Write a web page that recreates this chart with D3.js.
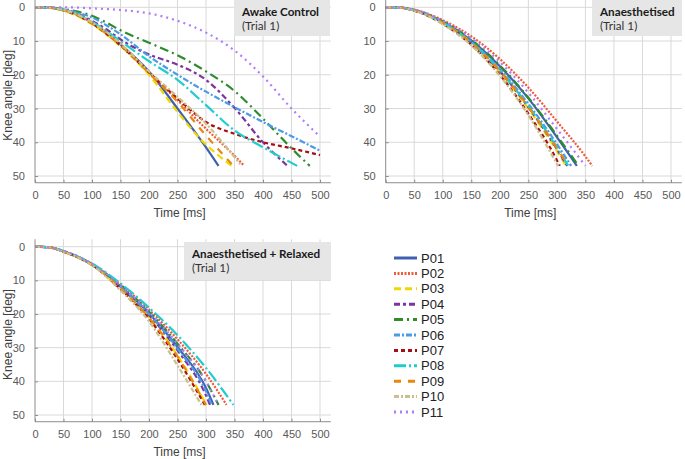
<!DOCTYPE html>
<html>
<head>
<meta charset="utf-8">
<script src="https://cdn.jsdelivr.net/npm/d3@7"></script>
<style>
  html, body { margin: 0; padding: 0; background: #fff; }
  svg { display: block; font-family: "Liberation Sans", Arial, sans-serif; }
</style>
</head>
<body>
<svg id="chart" width="685" height="459"></svg>
<script>
// participants, in legend order
const participants = ['P01', 'P02', 'P03', 'P04', 'P05', 'P06', 'P07', 'P08', 'P09', 'P10', 'P11'];

const xTicks = [0, 50, 100, 150, 200, 250, 300, 350, 400, 450, 500];
const yTicks = [0, 10, 20, 30, 40, 50];

// knee angle [deg] vs time [ms], one list of [t, angle] per participant
const awakeCurves = [
  [[0, 0], [25, 0.1], [50, 0.8], [75, 2.2], [100, 4.5], [125, 7.5], [150, 11], [200, 19], [250, 30], [300, 41.5], [322, 47]],
  [[0, 0], [25, 0.1], [50, 0.8], [75, 2.2], [100, 4.5], [125, 7.3], [150, 10.8], [200, 19.5], [250, 27.5], [300, 36], [350, 44], [367, 47]],
  [[0, 0], [25, 0.2], [50, 1], [75, 2.6], [100, 5], [125, 8], [150, 11.5], [200, 20], [250, 31], [290, 39], [345, 47]],
  [[0, 0], [25, 0.1], [50, 0.8], [75, 2], [100, 4], [125, 6.5], [150, 9.5], [175, 12], [200, 14], [250, 17], [300, 21.5], [350, 29.8], [400, 40], [443, 47]],
  [[0, 0], [25, 0.1], [50, 0.5], [75, 1.3], [100, 2.5], [125, 4.5], [150, 6.8], [200, 10.5], [250, 14.2], [300, 19], [350, 24.8], [400, 33], [450, 41.8], [482, 47]],
  [[0, 0], [25, 0.1], [50, 0.6], [75, 1.6], [100, 3], [125, 5.3], [150, 8], [200, 14.5], [250, 20], [300, 25], [350, 29.6], [400, 34], [450, 38.2], [500, 42.5]],
  [[0, 0], [25, 0.1], [50, 0.9], [75, 2.4], [100, 4.8], [125, 7.8], [150, 11.3], [200, 19.3], [250, 27], [300, 34], [350, 37.5], [400, 40], [450, 41.8], [500, 43.8]],
  [[0, 0], [25, 0.1], [50, 0.8], [75, 2.2], [100, 4.3], [125, 7], [150, 10], [200, 16], [250, 21.5], [300, 29], [350, 36.5], [400, 41.5], [460, 47]],
  [[0, 0], [25, 0.1], [50, 0.9], [75, 2.4], [100, 4.8], [125, 7.8], [150, 11.2], [200, 19.5], [250, 28], [300, 38], [348, 47]],
  [[0, 0], [25, 0.1], [50, 0.8], [75, 2.2], [100, 4.5], [125, 7.3], [150, 10.8], [200, 19], [250, 26.5], [300, 34.5], [360, 46.5]],
  [[0, 0], [50, 0], [100, 0.3], [150, 0.8], [200, 1.8], [250, 4], [300, 7.5], [350, 12.8], [400, 20.5], [450, 30], [500, 38.3]]
];

const anaesthCurves = [
  [[0, 0], [25, 0.1], [50, 0.8], [100, 4.3], [150, 9.8], [200, 17.5], [250, 27], [300, 38.5], [335, 47]],
  [[0, 0], [25, 0.1], [50, 0.7], [100, 3.8], [150, 8.6], [200, 15.3], [250, 23.8], [300, 33.8], [350, 44.2], [362, 47]],
  [[0, 0], [25, 0.1], [50, 0.9], [100, 4.7], [150, 10.7], [200, 19.2], [250, 30], [300, 42.6], [316, 47]],
  [[0, 0], [25, 0.1], [50, 0.9], [100, 4.6], [150, 10.5], [200, 18.9], [250, 29.6], [300, 42], [318, 47]],
  [[0, 0], [25, 0.1], [50, 0.8], [100, 4.2], [150, 9.6], [200, 17.2], [250, 26.8], [300, 38], [338, 47]],
  [[0, 0], [25, 0.1], [50, 0.8], [100, 4.5], [150, 10.2], [200, 18.3], [250, 28.6], [300, 40.5], [325, 47]],
  [[0, 0], [25, 0.1], [50, 1], [100, 4.9], [150, 11.1], [200, 20], [250, 31.5], [300, 45.3], [305, 47]],
  [[0, 0], [25, 0.1], [50, 0.9], [100, 4.6], [150, 10.4], [200, 18.7], [250, 29.3], [300, 41.5], [320, 47]],
  [[0, 0], [25, 0.1], [50, 0.9], [100, 4.6], [150, 10.5], [200, 18.8], [250, 29.5], [300, 41.7], [320, 47]],
  [[0, 0], [25, 0.1], [50, 1], [100, 5], [150, 11.3], [200, 20.3], [250, 32], [302, 47]],
  [[0, 0], [25, 0.1], [50, 0.7], [100, 4], [150, 9.1], [200, 16.2], [250, 25.3], [300, 36], [350, 47]]
];

const relaxedCurves = [
  [[0, 0], [25, 0.2], [50, 1.4], [100, 5.3], [150, 11.8], [200, 19.8], [250, 29.8], [300, 42], [313, 47]],
  [[0, 0], [25, 0.2], [50, 1.3], [100, 5.1], [150, 11.2], [200, 18.7], [250, 27.5], [300, 37.8], [336, 47]],
  [[0, 0], [25, 0.2], [50, 1.5], [100, 5.5], [150, 12.4], [200, 21], [250, 32.3], [301, 47]],
  [[0, 0], [25, 0.2], [50, 1.4], [100, 5.3], [150, 12], [200, 20.3], [250, 30.8], [300, 44.2], [307, 47]],
  [[0, 0], [25, 0.2], [50, 1.4], [100, 5.2], [150, 11.5], [200, 19.3], [250, 28.8], [300, 40], [322, 47]],
  [[0, 0], [25, 0.2], [50, 1.4], [100, 5.3], [150, 11.9], [200, 20], [250, 30.3], [300, 43], [310, 47]],
  [[0, 0], [25, 0.2], [50, 1.5], [100, 5.4], [150, 12.6], [200, 21.4], [250, 33.4], [298, 47]],
  [[0, 0], [25, 0.2], [50, 1.3], [100, 5], [150, 10.9], [200, 18.1], [250, 26.3], [300, 36], [348, 47]],
  [[0, 0], [25, 0.2], [50, 1.5], [100, 5.4], [150, 12.4], [200, 21.1], [250, 32.6], [300, 47]],
  [[0, 0], [25, 0.2], [50, 1.5], [100, 5.5], [150, 13], [200, 22.2], [250, 35.3], [292, 47]],
  [[0, 0], [25, 0.2], [50, 1.2], [100, 5.1], [150, 11.5], [200, 19.3], [250, 28.8], [300, 40], [322, 47]]
];

// line styles per participant
const colors = ['#4060B0', '#EE5A3A', '#EED800', '#7A35A0', '#2E8B2E', '#4D9BE6', '#A50F15', '#22CCCC', '#E8880F', '#CCC08A', '#B07CFF'];
const dashes = ['none', '2,1.5', '7,4', '6,3,3,3', '9,4,2,4', '6,2,2,2', '4,3', '12,3,2,3', '7,7', '5,2,2,2', '2,4'];

const svg = d3.select('#chart');

function drawPanel(opt) {
  const x = d3.scaleLinear().domain([0, 500]).range([opt.x0, opt.x500]);
  const y = d3.scaleLinear().domain([0, 50]).range([opt.y0, opt.y50]);
  const left = opt.x0, right = x(519);
  const top = y(-2.2), bottom = y(52);

  const g = svg.append('g').attr('class', 'panel');

  // 网格
  g.selectAll('.vgrid')
    .data(xTicks.filter(d => d > 0))
    .join('line')
    .attr('class', 'vgrid')
    .attr('x1', d => x(d)).attr('x2', d => x(d))
    .attr('y1', top).attr('y2', bottom)
    .attr('stroke', '#d9d9d9').attr('stroke-width', 1);
  g.selectAll('.hgrid')
    .data(yTicks)
    .join('line')
    .attr('class', 'hgrid')
    .attr('x1', left).attr('x2', right)
    .attr('y1', d => y(d)).attr('y2', d => y(d))
    .attr('stroke', '#d9d9d9').attr('stroke-width', 1);

  // title box
  g.append('rect')
    .attr('x', opt.box[0]).attr('y', opt.box[1])
    .attr('width', opt.box[2]).attr('height', opt.box[3])
    .attr('fill', '#e6e6e6');
  g.append('text')
    .attr('x', opt.box[0] + 8).attr('y', opt.box[1] + 16)
    .attr('font-family', 'Lato, "Open Sans", sans-serif')
    .attr('font-weight', 'bold').attr('font-size', 11.7)
    .attr('fill', '#1a1a1a')
    .text(opt.title);
  g.append('text')
    .attr('x', opt.box[0] + 8).attr('y', opt.box[1] + 30)
    .attr('font-family', 'Lato, "Open Sans", sans-serif')
    .attr('font-size', 11.7)
    .attr('fill', '#333')
    .text('(Trial 1)');

  // curves
  const line = d3.line()
    .x(d => x(d[0]))
    .y(d => y(d[1]))
    .curve(d3.curveMonotoneX);

  g.selectAll('.curve')
    .data(opt.curves)
    .join('path')
    .attr('class', 'curve')
    .attr('d', line)
    .attr('fill', 'none')
    .attr('stroke', (d, i) => colors[i])
    .attr('stroke-width', 2.2)
    .attr('stroke-dasharray', (d, i) => dashes[i]);

  // axes
  const xAxis = d3.axisBottom(x).tickValues(xTicks).tickSize(-3).tickPadding(8);
  const yAxis = d3.axisLeft(y).tickValues(yTicks).tickSize(-3).tickPadding(10);

  const gx = g.append('g').attr('transform', `translate(0,${bottom})`).call(xAxis);
  gx.select('.domain').attr('d', `M${left},0H${right}`);
  const gy = g.append('g').attr('transform', `translate(${left},0)`).call(yAxis);
  gy.select('.domain').attr('d', `M0,${top}V${bottom}`);

  [gx, gy].forEach(a => {
    a.select('.domain').attr('stroke', '#8c8c8c');
    a.selectAll('.tick line').attr('stroke', '#8c8c8c');
    a.selectAll('.tick text')
      .attr('font-size', 11)
      .attr('font-family', '"Liberation Sans", Arial, sans-serif')
      .attr('fill', '#595959');
  });
  gy.selectAll('.tick line').attr('x2', 3);
  gx.selectAll('.tick line').attr('y2', -3);

  g.append('text')
    .attr('x', (x(0) + x(500)) / 2 + 2)
    .attr('y', bottom + 34)
    .attr('text-anchor', 'middle')
    .attr('font-size', 12)
    .attr('fill', '#404040')
    .text('Time [ms]');

  if (opt.yLabel) {
    g.append('text')
      .attr('transform', `translate(12,${(top + bottom) / 2 + 4}) rotate(-90)`)
      .attr('text-anchor', 'middle')
      .attr('font-size', 12)
      .attr('fill', '#404040')
      .text('Knee angle [deg]');
  }
}

drawPanel({ x0: 35, x500: 320, y0: 7.3, y50: 176, curves: awakeCurves,
  title: 'Awake Control', box: [234, 0, 96, 36], yLabel: true });
drawPanel({ x0: 385.7, x500: 671, y0: 7.3, y50: 176, curves: anaesthCurves,
  title: 'Anaesthetised', box: [592, 0, 90, 36], yLabel: false });
drawPanel({ x0: 35, x500: 320, y0: 246.7, y50: 415, curves: relaxedCurves,
  title: 'Anaesthetised + Relaxed', box: [184, 242, 147, 38], yLabel: true });

// legend
const legend = svg.append('g').attr('class', 'legend')
  .selectAll('g')
  .data(participants)
  .join('g')
  .attr('transform', (d, i) => `translate(394,${258 + i * 15.4})`);

legend.append('line')
  .attr('x1', 0).attr('x2', 23)
  .attr('stroke', (d, i) => colors[i])
  .attr('stroke-width', 3)
  .attr('stroke-dasharray', (d, i) => dashes[i]);

legend.append('text')
  .attr('x', 27)
  .attr('dy', '0.36em')
  .attr('font-size', 13)
  .attr('fill', '#222')
  .text(d => d);
</script>
</body>
</html>
